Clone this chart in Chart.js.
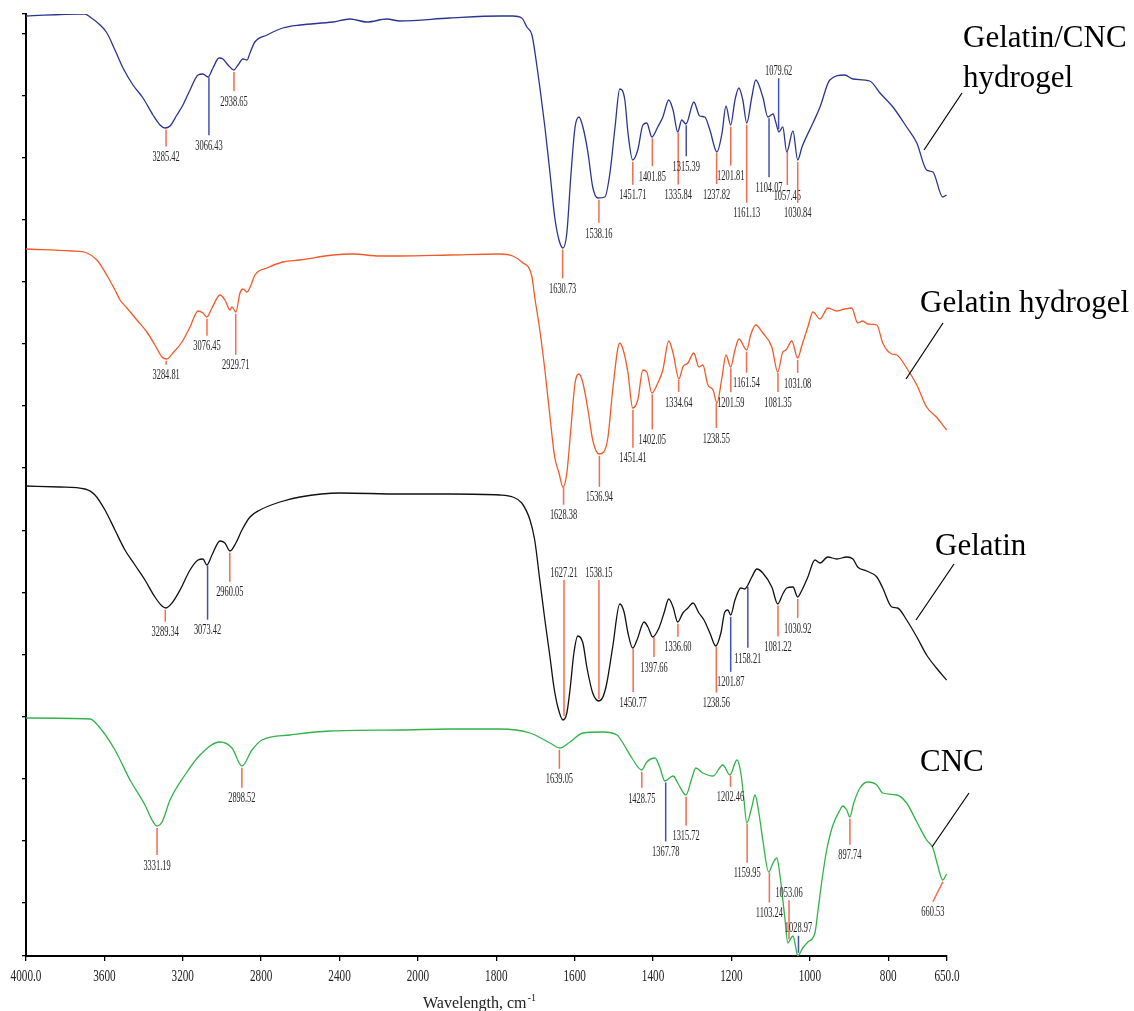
<!DOCTYPE html>
<html>
<head>
<meta charset="utf-8">
<script src="https://cdn.jsdelivr.net/npm/chart.js@4.4.1/dist/chart.umd.min.js"></script>
<style>
  html, body { margin: 0; padding: 0; background: #fff; }
  canvas { display: block; }
</style>
</head>
<body>
<canvas id="ftir" width="1134" height="1011"></canvas>
<script>
// FTIR spectra, [wavenumber cm-1, transmittance (offset, a.u.)]
const gelatinCncHydrogel = [
  [4000,94.0],[3724,94.2],[3699,94.2],[3673,93.9],[3622,93.1],[3587,92.3],[3546,90.6],[3505,88.8],
  [3454,87.1],[3403,85.8],[3352,84.1],[3316,83.1],[3291,82.8],[3265,83.0],[3230,84.1],[3199,85.1],
  [3163,86.6],[3122,88.1],[3097,88.2],[3071,87.9],[3046,88.8],[3015,89.8],[2995,89.7],[2969,89.1],
  [2939,88.6],[2918,89.1],[2893,89.7],[2872,89.6],[2857,90.3],[2832,91.4],[2770,92.1],[2689,92.8],
  [2602,93.1],[2434,93.4],[2347,93.7],[2260,93.4],[2158,93.7],[2092,93.5],[1918,93.8],[1791,94.0],
  [1758,94.0],[1735,93.8],[1722,92.9],[1709,92.1],[1696,88.9],[1689,86.9],[1676,82.9],[1663,78.3],
  [1651,73.9],[1640,71.6],[1630,70.8],[1620,72.3],[1610,77.9],[1599,82.9],[1589,83.9],[1579,82.9],
  [1566,80.3],[1554,76.9],[1541,75.8],[1523,75.9],[1510,78.3],[1497,82.9],[1485,86.7],[1472,85.6],
  [1464,82.3],[1452,79.6],[1439,80.6],[1426,83.1],[1416,83.3],[1403,81.9],[1388,82.9],[1375,83.9],
  [1360,85.6],[1349,84.6],[1337,82.4],[1327,83.6],[1316,83.2],[1296,85.4],[1281,84.0],[1268,83.9],
  [1255,82.6],[1237,80.4],[1224,82.3],[1214,85.0],[1202,83.1],[1191,85.6],[1181,86.8],[1171,85.6],
  [1161,83.3],[1148,85.9],[1138,87.6],[1120,85.9],[1107,83.9],[1094,84.2],[1087,83.4],[1079,82.4],
  [1069,82.9],[1059,80.4],[1043,82.5],[1031,79.6],[1020,80.9],[992,83.3],[974,84.9],[949,87.6],
  [911,88.1],[890,87.7],[847,87.5],[821,86.3],[788,84.9],[753,82.9],[727,81.3],[702,78.6],
  [686,78.4],[661,75.9],[651,76.1]
];
const gelatinHydrogel = [
  [4000,70.7],[3765,70.5],[3689,70.3],[3638,69.6],[3582,67.9],[3546,66.6],[3520,65.6],[3485,64.8],
  [3434,63.6],[3383,62.4],[3342,61.1],[3306,59.9],[3281,59.7],[3250,60.3],[3204,61.4],[3163,62.9],
  [3122,64.5],[3097,64.3],[3077,63.9],[3051,64.8],[3010,66.1],[2985,65.6],[2959,64.6],[2949,64.9],
  [2929,64.4],[2908,66.3],[2893,66.7],[2872,66.4],[2852,67.1],[2832,68.1],[2770,68.8],[2689,69.4],
  [2602,69.6],[2434,70.1],[2332,70.2],[2194,70.0],[2092,70.0],[1918,70.1],[1791,70.2],[1758,70.0],
  [1735,69.4],[1709,67.9],[1702,65.9],[1689,62.6],[1676,58.6],[1663,53.9],[1651,49.9],[1640,48.3],
  [1630,46.9],[1620,48.3],[1610,52.6],[1599,57.3],[1589,58.2],[1579,57.3],[1566,54.6],[1554,51.6],
  [1538,50.2],[1526,50.4],[1515,51.9],[1503,56.6],[1485,61.3],[1474,60.3],[1464,58.3],[1452,54.8],
  [1439,55.6],[1426,58.6],[1416,58.4],[1403,56.3],[1388,57.3],[1375,58.6],[1360,61.5],[1349,60.3],
  [1334,57.7],[1324,58.9],[1311,59.3],[1296,60.3],[1283,58.9],[1273,59.1],[1260,57.1],[1247,56.6],
  [1237,55.3],[1224,57.9],[1214,60.1],[1202,58.9],[1191,60.6],[1181,61.7],[1161,60.6],[1151,62.1],
  [1138,63.1],[1120,62.3],[1097,60.9],[1082,58.4],[1069,60.4],[1061,60.6],[1046,61.5],[1031,59.8],
  [1020,61.1],[1005,62.9],[992,64.4],[974,63.7],[954,64.8],[931,64.5],[911,64.7],[893,64.8],
  [878,63.3],[865,63.5],[852,63.2],[829,63.1],[814,61.3],[791,60.2],[778,60.1],[753,58.8],
  [727,57.1],[702,54.9],[677,53.9],[651,52.6]
];
const gelatin = [
  [4000,47.0],[3827,46.9],[3699,46.7],[3648,46.1],[3597,44.6],[3546,42.6],[3495,40.6],[3444,39.1],
  [3393,37.6],[3342,35.9],[3306,35.0],[3286,34.8],[3255,35.3],[3214,36.6],[3163,38.6],[3122,39.6],
  [3097,39.7],[3077,39.1],[3051,40.1],[3010,41.5],[2985,41.3],[2959,40.5],[2929,41.3],[2898,42.6],
  [2857,43.9],[2806,44.6],[2704,45.4],[2602,45.9],[2398,46.3],[2092,46.2],[1918,46.2],[1791,46.1],
  [1758,45.9],[1735,45.3],[1714,43.6],[1702,41.6],[1689,37.6],[1676,33.6],[1663,29.9],[1653,26.9],
  [1643,24.9],[1630,23.6],[1620,24.3],[1612,26.6],[1602,30.3],[1592,32.0],[1579,31.3],[1569,28.9],
  [1554,26.3],[1538,25.5],[1528,25.9],[1518,27.3],[1503,30.9],[1485,35.2],[1474,34.4],[1464,32.3],
  [1452,30.8],[1441,31.6],[1423,33.4],[1413,32.9],[1401,31.9],[1385,32.8],[1372,34.3],[1360,35.7],
  [1349,34.9],[1337,33.4],[1324,34.3],[1311,34.8],[1298,35.3],[1283,34.3],[1270,33.6],[1255,32.3],
  [1240,31.0],[1227,32.3],[1217,34.4],[1209,34.6],[1202,34.1],[1191,35.6],[1176,36.8],[1166,36.7],
  [1161,36.9],[1148,37.9],[1135,38.7],[1120,38.3],[1097,36.9],[1082,35.2],[1069,36.2],[1059,36.8],
  [1043,36.9],[1031,35.9],[1020,36.6],[1005,37.9],[987,39.6],[974,39.3],[954,39.9],[931,39.7],
  [906,39.9],[890,39.7],[878,38.9],[855,38.5],[829,37.9],[814,36.8],[791,34.9],[776,34.8],
  [753,33.6],[727,31.9],[702,30.1],[677,28.8],[651,27.6]
];
const cnc = [
  [4000,23.8],[3673,23.7],[3622,22.8],[3546,20.6],[3469,17.6],[3393,15.1],[3357,13.6],[3332,13.0],
  [3306,13.4],[3265,15.6],[3189,18.1],[3112,20.1],[3010,21.4],[2949,20.8],[2898,19.0],[2847,20.6],
  [2796,21.6],[2653,22.1],[2449,22.5],[2092,22.6],[1918,22.7],[1791,22.7],[1714,22.3],[1663,21.3],
  [1638,20.8],[1612,21.4],[1579,22.3],[1528,22.4],[1492,22.1],[1477,21.3],[1454,19.8],[1429,18.6],
  [1416,19.4],[1395,19.8],[1383,18.9],[1370,17.5],[1349,18.0],[1337,17.3],[1316,16.1],[1301,17.8],
  [1291,18.8],[1273,18.3],[1247,18.0],[1222,19.1],[1204,18.1],[1186,19.6],[1176,18.3],[1168,15.6],
  [1161,13.3],[1148,14.9],[1140,16.1],[1130,14.3],[1120,11.6],[1105,8.4],[1094,9.3],[1084,9.8],
  [1077,8.3],[1064,3.9],[1056,1.3],[1048,1.8],[1043,2.0],[1036,0.9],[1031,0.0],[1018,0.8],
  [1005,1.4],[987,2.3],[980,4.3],[969,7.6],[957,10.6],[941,13.1],[923,14.6],[916,15.0],
  [906,14.6],[898,13.9],[888,15.3],[872,16.8],[852,17.4],[829,17.1],[814,16.3],[778,16.1],
  [753,15.3],[727,13.4],[702,11.6],[686,10.8],[674,9.1],[661,7.6],[651,8.2]
];

// labelled band positions, cm-1
const gelatinCncHydrogelPeaks = [3285.42, 3066.43, 2938.65, 1630.73, 1538.16, 1451.71, 1401.85, 1335.84,
  1315.39, 1237.82, 1201.81, 1161.13, 1104.07, 1079.62, 1057.45, 1030.84];
const gelatinHydrogelPeaks = [3284.81, 3076.45, 2929.71, 1628.38, 1536.94, 1451.41, 1402.05, 1334.64,
  1238.55, 1201.59, 1161.54, 1081.35, 1031.08];
const gelatinPeaks = [3289.34, 3073.42, 2960.05, 1627.21, 1538.15, 1450.77, 1397.66, 1336.60,
  1238.56, 1201.87, 1158.21, 1081.22, 1030.92];
const cncPeaks = [3331.19, 2898.52, 1639.05, 1428.75, 1367.78, 1315.72, 1202.46, 1159.95,
  1103.24, 1053.06, 1028.97, 897.74, 660.53];

const seriesNames = ['Gelatin/CNC hydrogel', 'Gelatin hydrogel', 'Gelatin', 'CNC'];
const xTickValues = [4000, 3600, 3200, 2800, 2400, 2000, 1800, 1600, 1400, 1200, 1000, 800, 650];
const xTickLabels = ['4000.0', '3600', '3200', '2800', '2400', '2000', '1800', '1600', '1400', '1200', '1000', '800', '650.0'];
const yTickValues = [0, 5.3, 11.5, 17.7, 23.9, 30.1, 36.3, 42.5, 48.8, 55.0, 61.2, 67.4, 73.6, 79.8, 86.0, 92.2, 94.2];

// marker styling: [line length px (negative = upward), colour, x shift]
const markLayout = [
  [[19,'r'],[60,'b'],[21,'r'],[31,'r'],[25,'r'],[25,'r'],[30,'r'],[54,'r'],[33,'b'],[33,'r'],[41,'r'],[80,'r'],[61,'b'],[-53,'b'],[35,'r'],[43,'r']],
  [[6,'r'],[19,'r'],[43,'r'],[20,'r'],[33,'r'],[40,'r'],[37,'r'],[14,'r'],[27,'r'],[26,'r'],[23,'r'],[21,'r'],[15,'r']],
  [[14,'r'],[56,'b'],[31,'r'],[-138,'r'],[-121,'r'],[45,'r'],[22,'r'],[15,'r'],[48,'r'],[57,'b'],[63,'b'],[33,'r'],[21,'r']],
  [[29,'r'],[22,'r'],[21,'r'],[18,'r'],[61,'b'],[31,'r'],[13,'r'],[41,'r'],[32,'r'],[-41,'r'],[-19,'b'],[28,'r'],[22,'r',-10]]
];
const nameLayout = [
  { lines: ['Gelatin/CNC', 'hydrogel'], x: 963, y: 47, lead: [962, 93, 924, 150] },
  { lines: ['Gelatin hydrogel'], x: 920, y: 312, lead: [943, 323, 906, 379] },
  { lines: ['Gelatin'], x: 935, y: 555, lead: [954, 564, 916, 620] },
  { lines: ['CNC'], x: 920, y: 771, lead: [969, 793, 932, 847] }
];
const lineColors = ['#2b3590', '#f25a2a', '#111111', '#33b24a'];
const markColors = { r: '#f26c4f', b: '#4450b0' };

// wavenumber axis with 2x expansion below 2000 cm-1
class SplitWaveScale extends Chart.LinearScale {
  _t(v) { return v >= 2000 ? (4000 - v) / 2 : 1000 + (2000 - v); }
  getPixelForValue(v) {
    if (v === null || v === undefined) return NaN;
    return this.left + this.width * this._t(v) / 2350;
  }
  getValueForPixel(p) {
    const t = (p - this.left) / this.width * 2350;
    return t <= 1000 ? 4000 - 2 * t : 2000 - (t - 1000);
  }
}
SplitWaveScale.id = 'splitwave';
SplitWaveScale.defaults = Chart.LinearScale.defaults;
Chart.register(SplitWaveScale);

const allSeries = [gelatinCncHydrogel, gelatinHydrogel, gelatin, cnc];
const allPeaks = [gelatinCncHydrogelPeaks, gelatinHydrogelPeaks, gelatinPeaks, cncPeaks];

function valueAt(data, wn) {
  for (let j = 0; j < data.length - 1; j++) {
    const a = data[j], b = data[j + 1];
    if (wn <= a.x && wn >= b.x) {
      return a.y + (b.y - a.y) * (a.x - wn) / (a.x - b.x);
    }
  }
  return data[data.length - 1].y;
}

function narrowText(ctx, text, x, y, size, sx) {
  ctx.save();
  ctx.translate(x, y);
  ctx.scale(sx, 1);
  ctx.font = size + 'px "Liberation Serif", "Times New Roman", serif';
  ctx.textAlign = 'center';
  ctx.textBaseline = 'middle';
  ctx.fillText(text, 0, 0);
  ctx.restore();
}

const annotate = {
  id: 'annotate',
  afterDraw(chart) {
    const { ctx } = chart;
    const xs = chart.scales.x, ys = chart.scales.y;
    ctx.save();
    // band markers
    chart.data.datasets.forEach((ds, i) => {
      allPeaks[i].forEach((wn, k) => {
        const [len, col, dx = 0] = markLayout[i][k];
        const px = xs.getPixelForValue(wn);
        const py = ys.getPixelForValue(valueAt(ds.data, wn));
        const dir = len >= 0 ? 1 : -1;
        const yEnd = py + len;
        ctx.strokeStyle = markColors[col];
        ctx.lineWidth = 1.5;
        ctx.beginPath();
        ctx.moveTo(px, py + dir * 2);
        ctx.lineTo(px + dx, yEnd);
        ctx.stroke();
        ctx.fillStyle = '#222';
        narrowText(ctx, wn.toFixed(2), px + dx, dir > 0 ? yEnd + 11 : yEnd - 7, 14, 0.6);
      });
    });
    // series names with leader lines
    nameLayout.forEach(n => {
      ctx.fillStyle = '#000';
      ctx.font = '31px "Liberation Serif", "Times New Roman", serif';
      ctx.textAlign = 'left';
      ctx.textBaseline = 'alphabetic';
      n.lines.forEach((t, j) => ctx.fillText(t, n.x, n.y + j * 40));
      ctx.strokeStyle = '#000';
      ctx.lineWidth = 1.2;
      ctx.beginPath();
      ctx.moveTo(n.lead[0], n.lead[1]);
      ctx.lineTo(n.lead[2], n.lead[3]);
      ctx.stroke();
    });
    // x tick labels
    ctx.fillStyle = '#222';
    xTickValues.forEach((v, i) => {
      narrowText(ctx, xTickLabels[i], xs.getPixelForValue(v), 977, 16, 0.7);
    });
    // axis title
    ctx.fillStyle = '#222';
    ctx.textAlign = 'left';
    ctx.textBaseline = 'alphabetic';
    ctx.font = '16px "Liberation Serif", "Times New Roman", serif';
    const title = 'Wavelength, cm';
    ctx.fillText(title, 423, 1008);
    const w = ctx.measureText(title).width;
    ctx.font = '10px "Liberation Serif", "Times New Roman", serif';
    ctx.fillText('-1', 423 + w + 1, 1001);
    ctx.restore();
  }
};

new Chart(document.getElementById('ftir'), {
  type: 'line',
  data: {
    datasets: allSeries.map((s, i) => ({
      label: seriesNames[i],
      data: s.map(([x, y]) => ({ x, y })),
      borderColor: lineColors[i],
      borderWidth: 1.3,
      pointRadius: 0,
      cubicInterpolationMode: 'monotone',
      fill: false
    }))
  },
  options: {
    responsive: false,
    animation: false,
    events: [],
    layout: { padding: { top: 14, right: 187, left: 0, bottom: 0 } },
    scales: {
      x: {
        type: 'splitwave',
        min: 650,
        max: 4000,
        afterBuildTicks: s => { s.ticks = xTickValues.map(v => ({ value: v })); },
        afterFit: s => { s.height = 55; },
        ticks: { display: false },
        grid: { drawOnChartArea: false, drawTicks: true, tickLength: 5, color: '#000', lineWidth: 1.3 },
        border: { display: true, color: '#000', width: 2 }
      },
      y: {
        type: 'linear',
        min: 0,
        max: 94.2,
        afterBuildTicks: s => { s.ticks = yTickValues.map(v => ({ value: v })); },
        afterFit: s => { s.width = 26; },
        ticks: { display: false },
        grid: { drawOnChartArea: false, drawTicks: true, tickLength: 4, color: '#000', lineWidth: 1.3 },
        border: { display: true, color: '#000', width: 2 }
      }
    },
    plugins: {
      legend: { display: false },
      tooltip: { enabled: false }
    }
  },
  plugins: [annotate]
});
</script>
</body>
</html>
